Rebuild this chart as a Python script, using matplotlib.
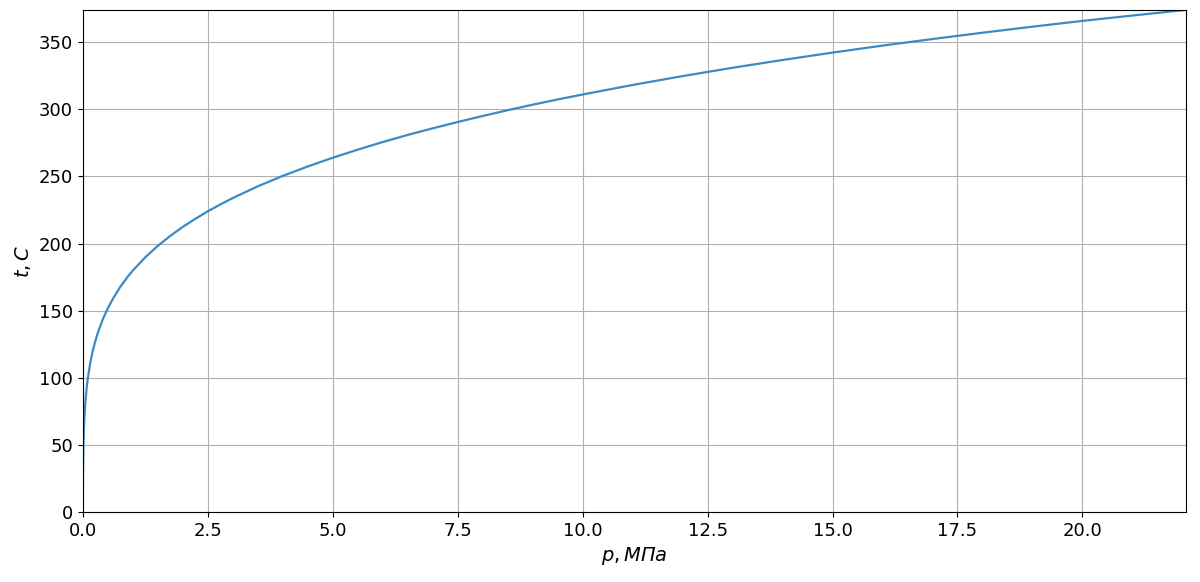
import matplotlib
matplotlib.use("Agg")
import matplotlib.pyplot as plt

p_mpa = [0.000611, 0.001, 0.002, 0.005, 0.01, 0.02, 0.03, 0.05, 0.075, 0.1, 0.15, 0.2, 0.25, 0.3, 0.4, 0.5, 0.6,
         0.75, 0.9, 1.0, 1.25, 1.5, 1.75, 2.0, 2.25, 2.5, 2.75, 3.0, 3.5, 4.0, 4.5, 5.0, 5.5, 6.0, 6.5, 7.0, 7.5,
         8.0, 8.5, 9.0, 9.5, 10.0, 11.0, 12.0, 13.0, 14.0, 15.0, 16.0, 17.0, 18.0, 19.0, 20.0, 21.0, 22.064]
t_c = [0.01, 7.0, 17.5, 32.9, 45.8, 60.1, 69.1, 81.3, 91.8, 99.6, 111.4, 120.2, 127.4, 133.5, 143.6, 151.8, 158.8,
       167.8, 175.4, 179.9, 189.8, 198.3, 205.7, 212.4, 218.4, 224.0, 229.1, 233.9, 242.6, 250.4, 257.4, 263.9,
       269.9, 275.6, 280.9, 285.8, 290.5, 295.0, 299.3, 303.4, 307.3, 311.0, 318.1, 324.7, 330.9, 336.7, 342.2,
       347.4, 352.3, 357.0, 361.5, 365.8, 369.8, 373.95]

fig, ax = plt.subplots(figsize=(12, 5.82), dpi=100)
fig.subplots_adjust(left=0.069, right=0.988, top=0.983, bottom=0.12)
ax.plot(p_mpa, t_c, color='#3a8ac4', lw=1.6)
ax.set_xlim(0, 22.064)
ax.set_ylim(0, 374)
ax.set_xticks([0, 2.5, 5, 7.5, 10, 12.5, 15, 17.5, 20])
ax.grid(True, color='#b0b0b0', lw=0.8)
ax.tick_params(labelsize=13)
ax.set_xlabel(r'$p, МПа$', fontsize=14)
ax.set_ylabel(r'$t, C$', fontsize=14)
fig.savefig('out.png')
